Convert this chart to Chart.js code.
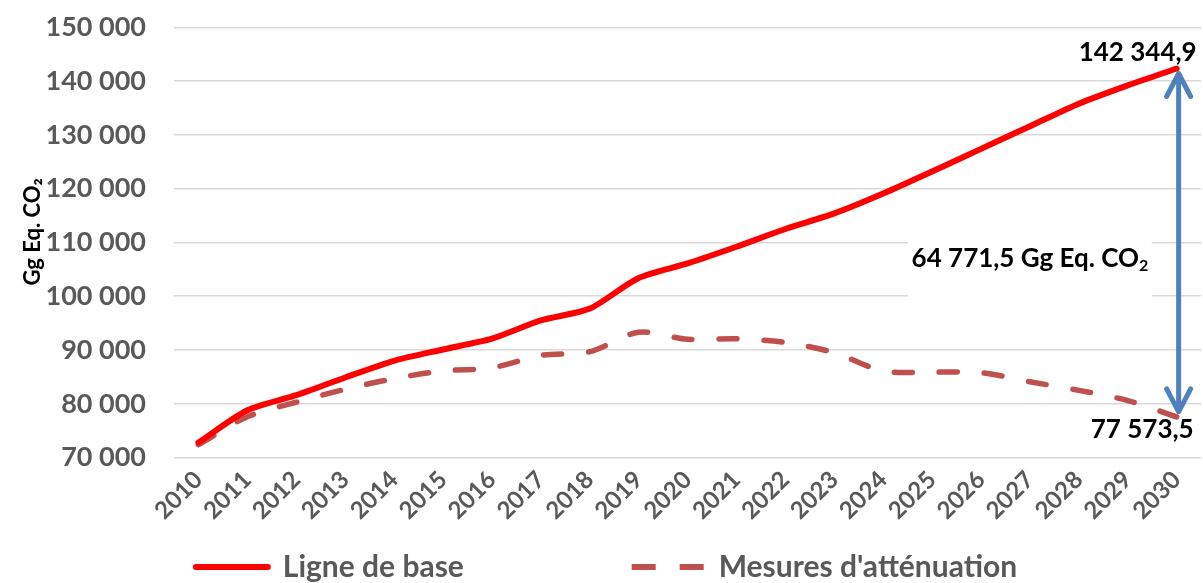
<!DOCTYPE html>
<html><head><meta charset="utf-8">
<script src="https://cdn.jsdelivr.net/npm/chart.js@4"></script>
<style>
html,body{margin:0;padding:0;overflow:hidden;background:#fff;}
#wrap{width:1205px;height:583px;position:relative;}
</style></head><body>
<div id="wrap"><canvas id="c"></canvas></div>
<script>
// ---- data ----
const years = ['2010','2011','2012','2013','2014','2015','2016','2017','2018','2019','2020',
               '2021','2022','2023','2024','2025','2026','2027','2028','2029','2030'];
const ligneDeBase = [72800, 78800, 81600, 84900, 88000, 90100, 92100, 95500, 97700, 103400, 106100,
                     109200, 112500, 115400, 119100, 123200, 127400, 131600, 135800, 139200, 142344.9];
const mesuresAttenuation = [72400, 77600, 80300, 82700, 84700, 86100, 86700, 89000, 89700, 93300, 92000,
                            92100, 91400, 89500, 86100, 85900, 85800, 84100, 82500, 80600, 77573.5];
const yMin = 70000, yMax = 150000, yStep = 10000;
const seriesNames = ['Ligne de base', "Mesures d'atténuation"];
const yTitle = 'Gg Eq. CO\u2082';
const gapValue = 64771.5;
const gapUnit = 'Gg Eq. CO';

function fmt(v, dec) {
  const s = v.toFixed(dec);
  const [i, d] = s.split('.');
  const ii = i.replace(/\B(?=(\d{3})+(?!\d))/g, ' ');
  return d ? ii + ',' + d : ii;
}

const FONT = 'Lato';
const GREY = '#595959';
const GAP_FONT = 26, SUB_FONT = 16;

const annot = {
  id: 'annot',
  beforeDatasetsDraw(chart) {
    const {ctx, scales: {x, y}} = chart;
    const n = years.length - 1;
    const cx = x.getPixelForValue(17);
    const cy = (y.getPixelForValue(ligneDeBase[n]) + y.getPixelForValue(mesuresAttenuation[n])) / 2 + 15;
    ctx.save();
    ctx.font = `700 ${GAP_FONT}px ${FONT}`;
    const w = ctx.measureText(fmt(gapValue, 1) + ' ' + gapUnit).width + 12;
    ctx.fillStyle = '#fff';
    ctx.fillRect(cx - w / 2 - 2, cy - 30, w + 4, 80);
    ctx.restore();
  },
  afterDatasetsDraw(chart) {
    const {ctx, scales: {x, y}} = chart;
    const n = years.length - 1;
    const px = x.getPixelForValue(n);
    const pyB = y.getPixelForValue(ligneDeBase[n]);
    const pyM = y.getPixelForValue(mesuresAttenuation[n]);
    ctx.save();
    // double arrow
    const ax = px + 2, yT = pyB + 5, yB = pyM - 5;
    ctx.strokeStyle = '#4F81BD';
    ctx.lineWidth = 5;
    ctx.lineCap = 'round';
    ctx.lineJoin = 'round';
    ctx.beginPath();
    ctx.moveTo(ax, yT + 2); ctx.lineTo(ax, yB - 2);
    ctx.moveTo(ax - 12, yT + 23); ctx.lineTo(ax, yT); ctx.lineTo(ax + 12, yT + 23);
    ctx.moveTo(ax - 12, yB - 23); ctx.lineTo(ax, yB); ctx.lineTo(ax + 12, yB - 23);
    ctx.stroke();
    // end labels
    ctx.fillStyle = '#000';
    ctx.font = `700 26px ${FONT}`;
    ctx.textAlign = 'right';
    ctx.textBaseline = 'middle';
    ctx.fillText(fmt(ligneDeBase[n], 1), px + 20, pyB - 16);
    ctx.fillText(fmt(mesuresAttenuation[n], 1), px + 17, pyM + 13);
    // gap label
    const cx = x.getPixelForValue(17);
    const cy = (pyB + pyM) / 2 + 15;
    ctx.font = `700 ${GAP_FONT}px ${FONT}`;
    const main = fmt(gapValue, 1) + ' ' + gapUnit;
    const mw = ctx.measureText(main).width;
    ctx.font = `700 ${SUB_FONT}px ${FONT}`;
    const sw = ctx.measureText('2').width;
    const x0 = cx - (mw + sw) / 2;
    ctx.textAlign = 'left';
    ctx.textBaseline = 'alphabetic';
    ctx.font = `700 ${GAP_FONT}px ${FONT}`;
    ctx.fillText(main, x0, cy + 9);
    ctx.font = `700 ${SUB_FONT}px ${FONT}`;
    ctx.fillText('2', x0 + mw, cy + 13);
    ctx.restore();
  }
};

new Chart(document.getElementById('c'), {
  type: 'line',
  data: {
    labels: years,
    datasets: [
      {
        label: seriesNames[0] + '\u2003\u2003\u2003\u2003\u2003\u2003\u2003 ',
        data: ligneDeBase,
        borderColor: '#FF0000',
        backgroundColor: '#FF0000',
        borderWidth: 6,
        borderCapStyle: 'round',
        borderJoinStyle: 'round',
        pointRadius: 0,
        tension: 0.25,
        fill: false
      },
      {
        label: seriesNames[1],
        data: mesuresAttenuation,
        borderColor: '#C0504D',
        backgroundColor: '#C0504D',
        borderWidth: 5.5,
        borderDash: [18, 27],
        borderCapStyle: 'round',
        borderJoinStyle: 'round',
        pointRadius: 0,
        tension: 0.3,
        fill: false
      }
    ]
  },
  options: {
    responsive: true,
    maintainAspectRatio: false,
    animation: false,
    layout: { padding: { left: 8, right: 0, top: 27.3, bottom: -9 } },
    plugins: {
      legend: {
        position: 'bottom',
        labels: {
          usePointStyle: true,
          pointStyle: 'line',
          pointStyleWidth: 72,
          padding: 3,
          color: GREY,
          font: { family: FONT, size: 30, weight: '700' },
          generateLabels(chart) {
            const items = Chart.defaults.plugins.legend.labels.generateLabels(chart);
            return items.map((it) => {
              const ds = chart.data.datasets[it.datasetIndex];
              return Object.assign(it, {
                pointStyle: 'line',
                lineDash: ds.borderDash ? [24, 24] : [],
                lineDashOffset: 0,
                lineWidth: 6,
                lineCap: ds.borderDash ? 'butt' : 'round',
                strokeStyle: ds.borderColor,
                fillStyle: ds.borderColor
              });
            });
          }
        }
      },
      tooltip: { enabled: false }
    },
    scales: {
      x: {
        offset: true,
        grid: { display: false, drawTicks: false },
        border: { display: false },
        ticks: {
          autoSkip: false,
          maxRotation: 45,
          minRotation: 45,
          padding: 8,
          color: GREY,
          font: { family: FONT, size: 24, weight: '700' }
        },
        afterFit(s) { s.height = 91.4; }
      },
      y: {
        min: yMin,
        max: yMax,
        grid: { color: '#D9D9D9', lineWidth: 1.6, drawTicks: true, tickLength: 17, tickColor: 'rgba(0,0,0,0)' },
        border: { display: false },
        ticks: {
          stepSize: yStep,
          padding: 11,
          color: GREY,
          font: { family: FONT, size: 27, weight: '700' },
          callback: (v) => fmt(v, 0)
        },
        title: {
          display: true,
          text: '    ' + yTitle,
          color: '#000',
          padding: { top: 12, bottom: 0 },
          font: { family: FONT, size: 22, weight: '700' }
        },
        afterFit(s) { s.width = 166; }
      }
    }
  },
  plugins: [annot]
});
</script>
</body></html>
